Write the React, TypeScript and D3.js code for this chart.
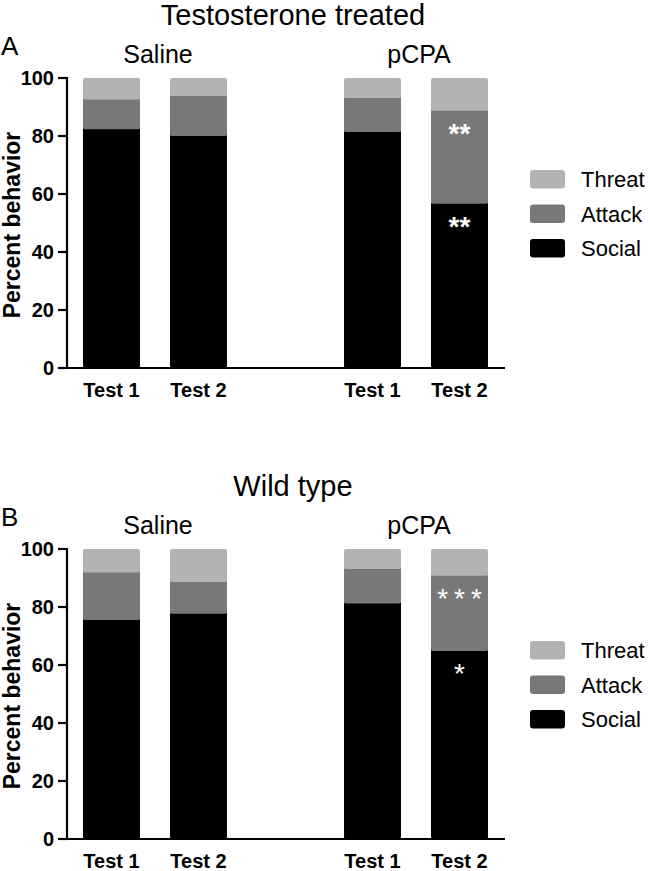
import React from "react";
import * as d3 from "d3";

const slots = ["Saline-Test 1", "Saline-Test 2", "gap", "pCPA-Test 1", "pCPA-Test 2"];
const barSlots = ["Saline-Test 1", "Saline-Test 2", "pCPA-Test 1", "pCPA-Test 2"];
const barLabels = ["Test 1", "Test 2", "Test 1", "Test 2"];
const groupNames = ["Saline", "pCPA"];
const seriesNames = ["Social", "Attack", "Threat"];
const seriesColors = ["#000000", "#787878", "#b3b3b3"];
const yTicks = [0, 20, 40, 60, 80, 100];

const panelTitles = ["Testosterone treated", "Wild type"];
const panelLetters = ["A", "B"];

const socialA = [83.0, 80.7, 82.1, 57.3];
const attackA = [10.3, 13.8, 11.7, 32.1];
const threatA = [6.7, 5.5, 6.2, 10.6];

const socialB = [76.2, 78.4, 81.9, 65.5];
const attackB = [16.4, 10.9, 11.9, 26.0];
const threatB = [7.4, 10.7, 6.2, 8.5];

// significance markers: [bar index, series index, text]
const starsA: [number, number, string][] = [[3, 1, "**"], [3, 0, "**"]];
const starsB: [number, number, string][] = [[3, 1, "***"], [3, 0, "*"]];

const FONT = "'Liberation Sans', Arial, Helvetica, sans-serif";

function Panel({ offset, title, letter, social, attack, threat, stars }: any) {
  const x = d3.scaleBand().domain(slots).range([68, 503]).paddingInner(0.345).paddingOuter(0.1725);
  const y = d3.scaleLinear().domain([0, 100]).range([368 + offset, 78 + offset]);
  const rows = barSlots.map((s, i) => ({ slot: s, Social: social[i], Attack: attack[i], Threat: threat[i] }));
  const stack = d3.stack<any>().keys(seriesNames)(rows);
  const bw = x.bandwidth();
  const groupCenter = (g: string) => {
    const a = x(g + "-Test 1")! + bw / 2;
    const b = x(g + "-Test 2")! + bw / 2;
    return (a + b) / 2 + 3;
  };
  return (
    <g>
      <text x={293} y={25 + offset} fontSize={29} textAnchor="middle" fontFamily={FONT}>{title}</text>
      <text x={1} y={55 + offset} fontSize={26} fontFamily={FONT}>{letter}</text>
      {groupNames.map((g) => (
        <text key={g} x={groupCenter(g)} y={63 + offset} fontSize={25} textAnchor="middle" fontFamily={FONT}>{g}</text>
      ))}
      {stack.map((layer, si) =>
        layer.map((d, i) => (
          <rect
            key={si + "-" + i}
            x={x(barSlots[i])}
            width={bw}
            y={y(d[1])}
            height={y(d[0]) - y(d[1]) + (si === 0 ? 0 : 2)}
            fill={seriesColors[si]}
            rx={2}
          />
        ))
      )}
      {stars.map(([bi, si, t]: [number, number, string], k: number) => {
        const top = y(stack[si][bi][1]);
        return (
          <text key={k} x={x(barSlots[bi])! + bw / 2 + (t.length === 3 ? 3 : 0)} y={top + 34} fontSize={28}
            fontWeight={t.length === 3 || t.length === 1 ? "normal" : "bold"} letterSpacing={t.length === 3 ? 6 : 0}
            textAnchor="middle" fill="#ffffff" fontFamily={FONT}>{t}</text>
        );
      })}
      <line x1={67} x2={67} y1={y(100) - 1} y2={y(0) + 1} stroke="#000" strokeWidth={2.2} />
      <line x1={58} x2={505} y1={y(0)} y2={y(0)} stroke="#000" strokeWidth={2.2} />
      {yTicks.map((t) => (
        <g key={t}>
          <line x1={58} x2={67} y1={y(t)} y2={y(t)} stroke="#000" strokeWidth={2.2} />
          <text x={54} y={y(t)} dy="0.36em" fontSize={20} fontWeight="bold" textAnchor="end" fontFamily={FONT}>{t}</text>
        </g>
      ))}
      {barSlots.map((s, i) => (
        <text key={s} x={x(s)! + bw / 2} y={397 + offset} fontSize={20} fontWeight="bold" textAnchor="middle" fontFamily={FONT}>{barLabels[i]}</text>
      ))}
      <text transform={`translate(20,${225 + offset}) rotate(-90)`} fontSize={23} fontWeight="bold" textAnchor="middle" fontFamily={FONT}>Percent behavior</text>
      {[2, 1, 0].map((si, k) => (
        <g key={si}>
          <rect x={530} y={170 + offset + k * 34.5} width={35} height={18.5} rx={3} fill={seriesColors[si]} />
          <text x={581} y={187 + offset + k * 34.5} fontSize={22} fontFamily={FONT}>{seriesNames[si]}</text>
        </g>
      ))}
    </g>
  );
}

export default function App() {
  return (
    <svg width={648} height={871} style={{ position: "absolute", left: 0, top: 0, background: "#fff" }}>
      <rect width={648} height={871} fill="#fff" />
      <Panel offset={0} title={panelTitles[0]} letter={panelLetters[0]} social={socialA} attack={attackA} threat={threatA} stars={starsA} />
      <Panel offset={471} title={panelTitles[1]} letter={panelLetters[1]} social={socialB} attack={attackB} threat={threatB} stars={starsB} />
    </svg>
  );
}
